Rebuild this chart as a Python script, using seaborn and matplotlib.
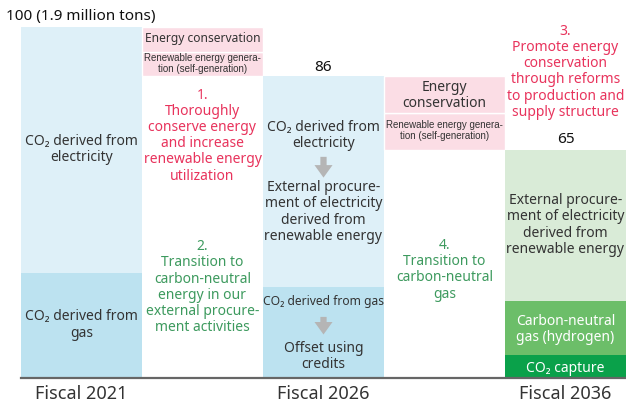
import pandas as pd
import matplotlib.pyplot as plt
import seaborn as sns

# columns of the chart (steps between the fiscal years have no label)
columns = ['Fiscal 2021', 'step 1-2', 'Fiscal 2026', 'step 3-4', 'Fiscal 2036']
tick_labels = ['Fiscal 2021', '', 'Fiscal 2026', '', 'Fiscal 2036']

# segment values (index: 100 = 1.9 million tons)
seg_column = ['Fiscal 2021', 'Fiscal 2021',
              'step 1-2', 'step 1-2',
              'Fiscal 2026', 'Fiscal 2026',
              'step 3-4', 'step 3-4',
              'Fiscal 2036', 'Fiscal 2036', 'Fiscal 2036']
seg_name = ['gas', 'electricity',
            'renewable self-generation', 'energy conservation',
            'gas', 'electricity',
            'renewable self-generation', 'energy conservation',
            'co2 capture', 'hydrogen', 'renewable electricity']
seg_bottom = [0, 30, 86, 93, 0, 26, 65, 75.5, 0, 6.5, 22]
seg_height = [30, 70, 7, 7, 26, 60, 10.5, 10.5, 6.5, 15.5, 43]
totals = [100, 86, 65]

colors = {
    'gas': '#bce2f0',
    'electricity': '#def0f8',
    'renewable self-generation': '#fbdde5',
    'energy conservation': '#fbdde5',
    'co2 capture': '#0aa14a',
    'hydrogen': '#6cbe69',
    'renewable electricity': '#d9ebd7',
}

df = pd.DataFrame({'column': seg_column, 'segment': seg_name,
                   'bottom': seg_bottom, 'height': seg_height})

sns.set_style('white')
plt.rcParams['font.family'] = ['Noto Sans', 'DejaVu Sans']

fig = plt.figure(figsize=(6.26, 4.05), dpi=100)
ax = fig.add_axes([21 / 626, 27 / 405, 605 / 626, 351 / 405])

for _, row in df.iterrows():
    pink = row['segment'] in ('renewable self-generation', 'energy conservation')
    sns.barplot(x=[row['column']], y=[row['height']], order=columns,
                bottom=row['bottom'], color=colors[row['segment']],
                saturation=1, width=1, errorbar=None, ax=ax,
                linewidth=1 if pink else 0, edgecolor='white')

ax.set_xlim(-0.5, 4.5)
ax.set_ylim(0, 100)
ax.set_yticks([])
ax.set_ylabel('')
ax.set_xlabel('')
ax.set_xticks([0, 2, 4])
ax.set_xticklabels([tick_labels[i] for i in (0, 2, 4)], fontsize=13, color='#333333')
ax.tick_params(axis='x', length=0, pad=5)
for s in ['top', 'left', 'right']:
    ax.spines[s].set_visible(False)
ax.spines['bottom'].set_color('#666666')
ax.spines['bottom'].set_linewidth(1.6)

dark = '#333333'
red = '#e8335c'
green = '#3d9a5e'
narrow = ['Liberation Sans', 'DejaVu Sans']


def label(x, y, s, color=dark, size=10, **kw):
    ax.text(x, y, s, ha='center', va='center', color=color, fontsize=size,
            linespacing=1.1, clip_on=False, **kw)


# totals
ax.text(-0.62, 103.1, f'{totals[0]} (1.9 million tons)', ha='left', va='center',
        fontsize=11, color='#111111', clip_on=False)
label(2, 88.6, str(totals[1]), color='#111111', size=11)
label(4, 68, str(totals[2]), color='#111111', size=11)

# Fiscal 2021
label(0, 65.2, 'CO₂ derived from\nelectricity')
label(0, 15.1, 'CO₂ derived from\ngas')

# step 1-2
label(1, 96.6, 'Energy conservation', size=8.7)
label(1, 89.5, 'Renewable energy genera-\ntion (self-generation)', size=7,
      family=narrow)
label(1, 69, '1.\nThoroughly\nconserve energy\nand increase\nrenewable energy\nutilization',
      color=red)
label(1, 25.9, '2.\nTransition to\ncarbon-neutral\nenergy in our\nexternal procure-\nment activities',
      color=green)

# Fiscal 2026
label(2, 69, 'CO₂ derived from\nelectricity')
label(2, 47.3, 'External procure-\nment of electricity\nderived from\nrenewable energy')
label(2, 21.9, 'CO₂ derived from gas', size=8.7)
label(2, 6, 'Offset using\ncredits')
arrow = dict(arrowstyle='simple,head_width=1.3,head_length=0.9,tail_width=0.45',
             color='#b5b5b5', lw=0)
ax.annotate('', xy=(2, 56.3), xytext=(2, 63.8), arrowprops=arrow)
ax.annotate('', xy=(2, 11.6), xytext=(2, 18.2), arrowprops=arrow)

# step 3-4
label(3, 80.6, 'Energy\nconservation', size=10)
label(3, 70.4, 'Renewable energy genera-\ntion (self-generation)', size=7,
      family=narrow)
label(3, 30.8, '4.\nTransition to\ncarbon-neutral\ngas', color=green)

# Fiscal 2036
label(4, 87.2, '3.\nPromote energy\nconservation\nthrough reforms\nto production and\nsupply structure',
      color=red)
label(4, 43.6, 'External procure-\nment of electricity\nderived from\nrenewable energy')
label(4, 13.7, 'Carbon-neutral\ngas (hydrogen)', color='white')
label(4, 2.8, 'CO₂ capture', color='white')

fig.savefig('out.png', dpi=100)
